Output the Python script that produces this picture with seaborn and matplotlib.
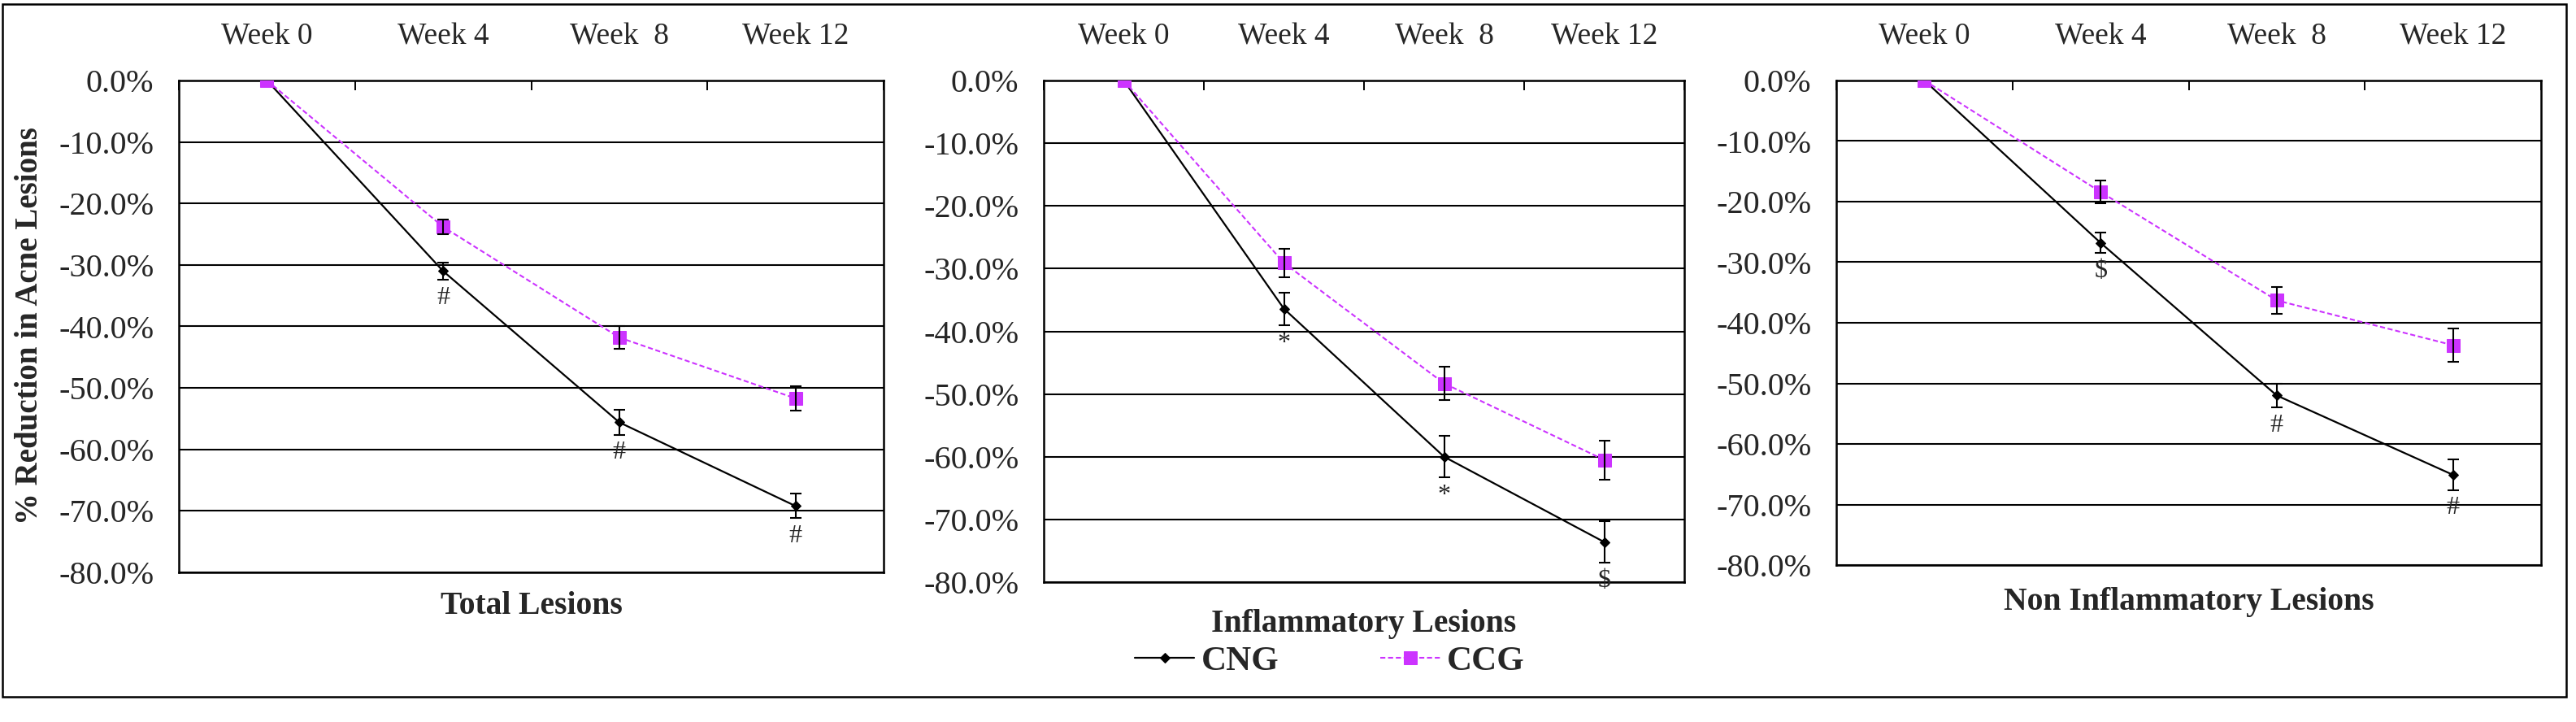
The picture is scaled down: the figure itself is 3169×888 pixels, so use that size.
import matplotlib
matplotlib.use("Agg")
import matplotlib.pyplot as plt
from matplotlib.ticker import FixedLocator, FuncFormatter
from matplotlib.patches import Rectangle
import seaborn as sns

# data (% change from baseline, mean and error)
weeks = ["Week 0", "Week 4", "Week  8", "Week 12"]
panel_titles = ["Total Lesions", "Inflammatory Lesions", "Non Inflammatory Lesions"]

cng_total = [0.0, -31.0, -55.6, -69.2]
cng_total_err = [0.0, 1.4, 2.0, 2.0]
ccg_total = [0.0, -23.8, -41.8, -51.7]
ccg_total_err = [0.0, 1.2, 1.8, 2.0]

cng_infl = [0.0, -36.4, -60.0, -73.6]
cng_infl_err = [0.0, 2.6, 3.3, 3.3]
ccg_infl = [0.0, -29.1, -48.3, -60.5]
ccg_infl_err = [0.0, 2.3, 2.7, 3.1]

cng_non = [0.0, -26.8, -52.0, -65.1]
cng_non_err = [0.0, 1.7, 2.0, 2.5]
ccg_non = [0.0, -18.4, -36.3, -43.7]
ccg_non_err = [0.0, 1.9, 2.2, 2.7]

marks_total = ["", "#", "#", "#"]
marks_infl = ["", "*", "*", "$"]
marks_non = ["", "$", "#", "#"]

y_ticks = [0, -10, -20, -30, -40, -50, -60, -70, -80]

sns.set_style("white")
plt.rcParams["font.family"] = ["Liberation Serif", "DejaVu Serif"]

W, H = 3169, 888
fig = plt.figure(figsize=(W / 100, H / 100), dpi=100)

# axes boxes in pixels: left, top, right, bottom, and x-label centre y
boxes = [(220, 99, 1087, 704, 745),
         (1284, 99, 2072, 716, 767),
         (2259, 99, 3126, 695, 740)]

panel_data = [
    (cng_total, cng_total_err, ccg_total, ccg_total_err, marks_total),
    (cng_infl, cng_infl_err, ccg_infl, ccg_infl_err, marks_infl),
    (cng_non, cng_non_err, ccg_non, ccg_non_err, marks_non),
]

CCG_COLOR = "#CC33FF"
x = list(range(len(weeks)))
axes = []

for i, ((l, t, r, b, lab_y), (cng, cng_e, ccg, ccg_e, marks)) in enumerate(zip(boxes, panel_data)):
    ax = fig.add_axes([l / W, 1 - b / H, (r - l) / W, (b - t) / H])
    axes.append(ax)

    # CNG - black solid with diamonds
    sns.lineplot(x=x, y=cng, ax=ax, color="black", linewidth=1.6, marker="D",
                 markersize=6.5, markeredgecolor="black", label="CNG", zorder=3)
    ax.errorbar(x[1:], cng[1:], yerr=cng_e[1:], fmt="none", ecolor="black",
                elinewidth=1.5, capsize=5, capthick=1.5, zorder=3)

    # CCG - magenta dashed with squares
    sns.lineplot(x=x, y=ccg, ax=ax, color=CCG_COLOR, linewidth=1.5, marker="s",
                 markersize=12, markeredgecolor=CCG_COLOR, label="CCG", zorder=4)
    ax.lines[-1].set_linestyle((0, (3, 1.6)))
    ax.errorbar(x[1:], ccg[1:], yerr=ccg_e[1:], fmt="none", ecolor="black",
                elinewidth=1.5, capsize=5, capthick=1.5, zorder=5)

    # significance marks under the CNG points
    for xi, v, e, m in zip(x, cng, cng_e, marks):
        if m:
            ax.annotate(m, (xi, v - e), xytext=(0, -16), textcoords="offset points",
                        ha="center", va="center", fontsize=23, zorder=6)

    ax.set_xlim(-0.5, len(weeks) - 0.5)
    ax.set_ylim(-80, 0)

    ax.xaxis.tick_top()
    ax.xaxis.set_major_locator(FixedLocator([-0.5, 0.5, 1.5, 2.5, 3.5]))
    ax.xaxis.set_major_formatter(FuncFormatter(lambda v, p: ""))
    ax.xaxis.set_minor_locator(FixedLocator(x))
    ax.set_xticklabels(weeks, minor=True)
    ax.tick_params(axis="x", which="major", direction="in", length=8.5, width=1.4,
                   top=True, bottom=False, color="black")
    ax.tick_params(axis="x", which="minor", length=0, pad=26, labelsize=27,
                   top=True, bottom=False, labeltop=True, labelbottom=False)

    ax.set_yticks(y_ticks)
    ax.yaxis.set_major_formatter(FuncFormatter(lambda v, p: f"{abs(v):.1f}%" if v == 0 else f"-{abs(v):.1f}%"))
    ax.tick_params(axis="y", length=0, pad=22, labelsize=29)
    ax.yaxis.grid(True, color="black", linewidth=1.5)
    ax.xaxis.grid(False)

    for s in ax.spines.values():
        s.set_visible(True)
        s.set_color("black")
        s.set_linewidth(1.8)

    ax.set_xlabel("")
    ax.set_ylabel("")
    if ax.get_legend() is not None:
        ax.get_legend().remove()

    fig.text((l + r) / 2 / W, 1 - lab_y / H, panel_titles[i], ha="center", va="center",
             fontsize=28.5, fontweight="bold")

fig.text(37 / W, 1 - 401 / H, "% Reduction in Acne Lesions", rotation=90,
         ha="center", va="center", fontsize=28, fontweight="bold")

handles, labels = axes[1].get_legend_handles_labels()
fig.legend(handles[:2], labels[:2], loc="center", bbox_to_anchor=(1636 / W, 1 - 813 / H),
           ncol=2, frameon=False, prop={"weight": "bold", "size": 31},
           handlelength=1.7, handletextpad=0.2, columnspacing=2.9)

# outer frame round the whole picture
fig.patches.append(Rectangle((3 / W, 1 - 857 / H), (3157 - 3) / W, (857 - 5) / H,
                             transform=fig.transFigure, fill=False,
                             edgecolor="black", linewidth=1.8))

fig.savefig("out.png", dpi=100, facecolor="white")
